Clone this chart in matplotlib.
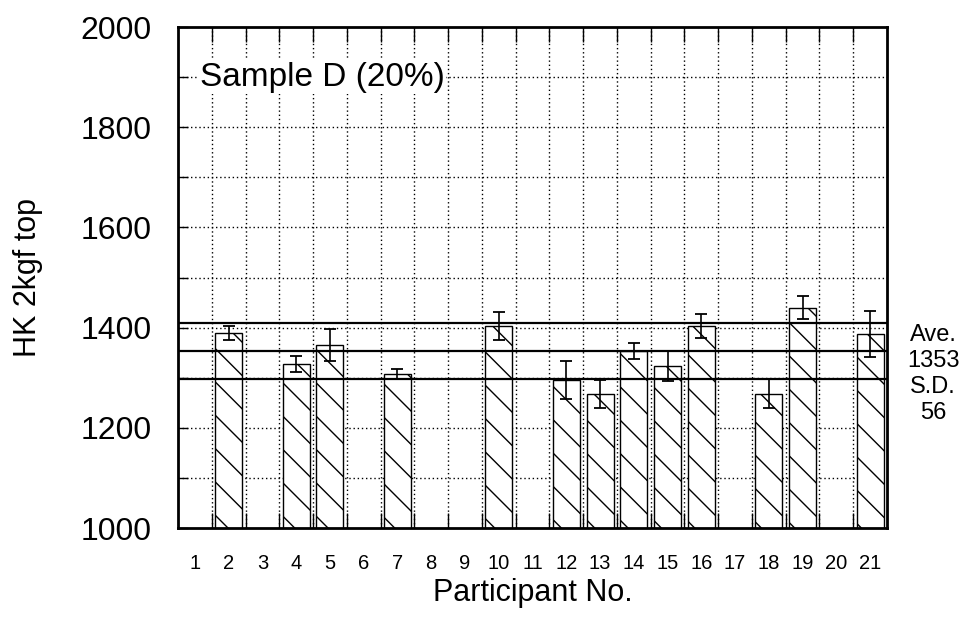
import matplotlib
matplotlib.use("Agg")
import matplotlib.pyplot as plt
import numpy as np

plt.rcParams['font.family'] = ['Liberation Sans', 'DejaVu Sans']
plt.rcParams['hatch.linewidth'] = 1.0

# hardness per participant (HK 2kgf, top surface)
participants = [2, 4, 5, 7, 10, 12, 13, 14, 15, 16, 18, 19, 21]
hk_mean = [1390, 1328, 1366, 1308, 1404, 1295, 1268, 1354, 1324, 1404, 1268, 1440, 1388]
hk_sd = [14, 16, 32, 10, 28, 38, 28, 16, 30, 24, 29, 23, 46]

ave = 1353
sd = 56
n_participants = 21

fig = plt.figure(figsize=(9.73, 6.18), dpi=100)
ax = fig.add_axes([0.183, 0.1456, 0.7286, 0.8107])

# dotted grid: participant boundaries and every 100 HK
for xb in np.arange(1.5, n_participants, 1.0):
    ax.axvline(xb, color='black', lw=1.0, ls=(0, (1, 2)), zorder=0)
for yg in range(1100, 2000, 100):
    ax.axhline(yg, color='black', lw=1.0, ls=(0, (1, 2)), zorder=0)

ax.bar(participants, hk_mean, width=0.8, bottom=0, color='white',
       edgecolor='black', linewidth=1.0, hatch='\\', zorder=2)
ax.errorbar(participants, hk_mean, yerr=hk_sd, fmt='none', ecolor='black',
            elinewidth=1.2, capsize=4, capthick=1.3, zorder=4)

# average and +/- one standard deviation
for yl in (ave - sd, ave, ave + sd):
    ax.axhline(yl, color='black', lw=1.6, zorder=3)

ax.set_xlim(0.5, n_participants + 0.5)
ax.set_ylim(1000, 2000)

ax.set_xticks(range(1, n_participants + 1))
ax.set_xticklabels([str(i) for i in range(1, n_participants + 1)], fontsize=14.5)
ax.tick_params(axis='x', which='major', length=0, pad=19)
ax.set_xticks(np.arange(1.5, n_participants, 1.0), minor=True)
ax.tick_params(axis='x', which='minor', direction='in', length=11, width=1.0,
               top=True, bottom=True)

ax.set_yticks(range(1000, 2001, 200))
ax.set_yticks(range(1100, 2000, 200), minor=True)
ax.tick_params(axis='y', which='both', direction='in', length=7, width=1.0,
               labelsize=23, pad=19)

for s in ax.spines.values():
    s.set_linewidth(2.0)

ax.text(1.15, 1900, 'Sample D (20%)', fontsize=24, va='center', ha='left',
        bbox=dict(facecolor='white', edgecolor='none', pad=1), zorder=5)

ax.set_xlabel('Participant No.', fontsize=22)
ax.xaxis.set_label_coords(0.5, -0.1)
ax.set_ylabel('HK 2kgf top', fontsize=22)
ax.yaxis.set_label_coords(-0.19, 0.5)

fig.text(0.959, 0.395, 'Ave.\n%d\nS.D.\n%d' % (ave, sd), fontsize=17,
         ha='center', va='center', linespacing=1.25)

fig.savefig('out.png', dpi=100)
